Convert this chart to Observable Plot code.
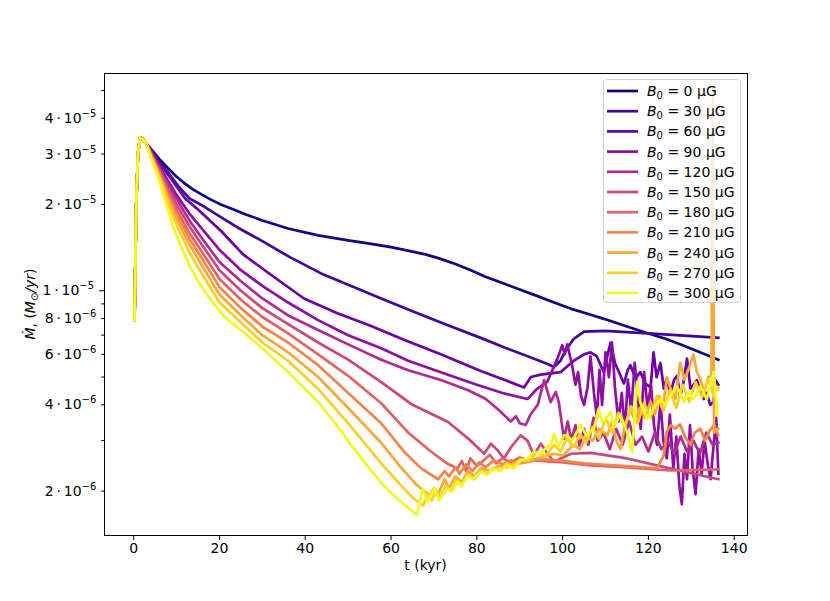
<!DOCTYPE html>
<html><head><meta charset="utf-8">
<script src="https://cdn.jsdelivr.net/npm/d3@7"></script>
<script src="https://cdn.jsdelivr.net/npm/@observablehq/plot@0.6"></script>
<style>
html,body{margin:0;padding:0;background:#fff;}
#chart{position:relative;width:830px;height:601px;}
</style></head><body><div id="chart"></div>
<script>
// magnetic field strengths (µG) and colours (plasma)
const fields = [0, 30, 60, 90, 120, 150, 180, 210, 240, 270, 300];
const colors = ["#0d0887","#41049d","#6a00a8","#8f0da4","#b12a90","#cc4778","#e16462","#f2844b","#fca636","#fcce25","#f0f921"];

// accretion rate in units of 1e-6 Msun/yr, t in kyr
const head = [[0.2,7.9],[0.6,20],[1.0,30],[1.5,34.2],[2.2,33.8],[3.0,32.5]];
const b0 = [[4,31.3],[6,28.8],[8,26.8],[10,25.0],[12,23.6],[14,22.5],[16,21.6],[18,20.8],[20,20.1],[23,19.3],[26,18.5],[30,17.6],[36,16.5],[43,15.6],[50,15.0],[55,14.6],[60,14.2],[65,13.7],[68,13.4],[71,13.0],[75,12.4],[78.6,11.8],[82,11.2],[86.3,10.6],[90,10.1],[94,9.6],[98,9.1],[102,8.65],[106,8.3],[110,7.95],[115,7.5],[120,7.1],[124,6.8],[128,6.45],[132,6.1],[136.3,5.75]];
const b30 = [[4,31.1],[6,28.2],[8,25.9],[10.4,23.2],[13,21.0],[16.6,19.6],[20.5,18.0],[24.3,16.6],[30,14.9],[36.4,13.1],[43.7,11.5],[50.7,10.4],[57.7,9.4],[64,8.6],[71.6,7.75],[80.9,6.85],[86.3,6.35],[92,5.9],[96.5,5.55],[98,5.42],[99.5,5.7],[100.7,6.2],[102.6,6.8],[105,7.2],[110,7.25],[120,7.1],[136.3,6.85]];
const b60 = [[4,30.9],[6,27.8],[8.8,24.5],[12,21.0],[15,19.2],[20.5,16.1],[25.5,13.4],[31.9,11.4],[39.7,9.4],[47.5,8.35],[55.2,7.55],[63,6.75],[71.6,6.0],[80.9,5.25],[87,4.85],[91,4.6],[92.6,5.0],[94.9,5.1],[99.5,5.2],[102.6,5.7],[105,6.0],[106.5,6.1],[108,5.9],[109.6,5.2],[110.5,6.0],[111.2,6.6],[112.2,5.6],[113.5,5.05],[114.3,4.75],[115.2,5.3],[115.8,5.5],[117,4.95],[118.1,5.2],[119.3,4.75],[120.5,4.6],[121.2,6.1],[121.9,5.0],[122.8,5.6],[123.6,4.56],[124.3,4.95],[125.1,4.38],[126,4.9],[126.7,5.05],[127.4,4.27],[128.2,4.8],[129,5.8],[129.8,4.56],[130.5,4.7],[131.3,4.88],[132.1,4.5],[132.9,4.19],[133.6,4.4],[134.4,4.0],[135.2,4.09],[135.6,4.88],[136.3,4.7]];
const b90 = [[4,30.7],[6,27.2],[8,24.2],[10,21.6],[13,18.6],[16,16.4],[20,13.9],[25,11.8],[30,10.4],[36,9.1],[43,7.9],[50,7.0],[57.7,6.3],[64,5.7],[71.6,5.2],[80,4.7],[86,4.4],[91.8,4.19],[94.1,4.56],[96.4,4.81],[98.8,5.8],[99.9,6.46],[100.5,6.0],[101.1,6.5],[102.2,5.5],[103,4.7],[103.6,5.2],[104.3,4.3],[105,4.0],[105.8,4.6],[106.5,5.9],[107.3,4.4],[108,3.6],[108.6,5.3],[109.2,4.0],[110,6.1],[110.8,5.0],[111.5,6.6],[112.2,4.6],[113,3.5],[113.8,4.4],[114.5,3.2],[115.2,4.9],[116,3.8],[116.8,5.6],[117.5,4.3],[118.2,3.3],[119,5.2],[119.8,3.9],[120.6,4.7],[121.3,3.4],[122,2.9],[122.8,4.1],[123.5,3.0],[124.3,2.6],[125,3.7],[125.8,2.4],[126.5,3.1],[127.2,2.1],[127.8,1.8],[128.4,2.7],[129,2.2],[129.7,3.4],[130.3,2.4],[131,1.95],[131.7,2.8],[132.4,2.3],[133.1,3.0],[133.8,2.5],[134.5,2.2],[135.2,2.9],[135.8,3.6],[136.3,2.3]];
const b120 = [[4,30.5],[6,26.9],[8,23.6],[10,20.9],[13,17.6],[16,15.2],[20,12.6],[25,10.8],[30,9.4],[36,8.2],[43,7.3],[50,6.5],[57.7,5.75],[64,5.28],[71.6,4.88],[78,4.5],[82,4.2],[85,3.85],[87.9,3.5],[89.1,3.65],[90,3.45],[91.4,3.4],[92.5,3.7],[94.2,4.0],[95.7,4.88],[97.2,4.09],[98.4,4.44],[99.1,4.09],[100.3,3.05],[101.2,3.5],[102,3.0],[103,3.4],[104,2.85],[105,3.3],[106,2.9],[107.2,3.6],[108.2,3.0],[109.5,3.2],[111,2.8],[112.5,3.3],[114,2.9],[115.5,3.5],[117,2.9],[118.5,3.1],[120,2.75],[121.5,3.2],[123,2.8],[124.5,3.0],[126,2.7],[127.5,3.1],[129,2.75],[130.5,3.0],[132,2.7],[133.5,3.2],[135,2.9],[136.3,2.95]];
const b150 = [[4,30.3],[6,26.4],[8,22.8],[10,20.0],[13,16.8],[16,14.4],[20,11.8],[25,10.0],[30,8.7],[36,7.65],[43,6.6],[50,5.75],[57.7,4.8],[65,4.0],[73.2,3.49],[78,3.05],[81.7,2.7],[83.3,2.93],[84.8,2.78],[86.3,2.6],[88,2.85],[90.2,3.13],[91.8,3.0],[93.3,2.67],[94.9,2.93],[96.5,2.7],[98,2.53],[100,2.62],[102,2.7],[106.5,2.72],[115,2.6],[125,2.4],[136.3,2.2]];
const b180 = [[4,30.1],[6,26.0],[8,22.2],[10,19.2],[13,15.9],[16,13.6],[20,11.0],[25,9.3],[30,8.1],[36,7.1],[43,6.0],[50,5.05],[57.7,4.05],[64,3.2],[69.3,2.75],[73,2.5],[75.5,2.4],[76.5,2.55],[77.5,2.35],[78.5,2.6],[80,2.45],[81.5,2.55],[83,2.68],[84.5,2.5],[86,2.6],[88,2.52],[90,2.62],[92,2.56],[95,2.55],[100,2.52],[106.5,2.46],[115,2.42],[125,2.36],[136.3,2.38]];
const b210 = [[4,29.9],[6,25.6],[8,21.6],[10,18.5],[13,15.2],[16,12.9],[20,10.3],[25,8.7],[30,7.5],[36,6.6],[43,5.5],[50,4.4],[57.7,3.45],[63,2.75],[67,2.4],[71,2.2],[72.5,2.35],[73.5,2.25],[75,2.42],[76,2.3],[77.5,2.48],[79,2.35],[80.5,2.52],[82,2.42],[84,2.56],[86,2.48],[88,2.56],[90,2.5],[93,2.55],[96,2.58],[100,2.55],[105,2.5],[110,2.47],[116,2.44],[122,2.4],[123.6,2.67],[124.3,3.22],[125.2,3.4],[126.2,3.3],[127.4,3.42],[128.5,3.1],[129.8,2.9],[130.8,3.2],[132.1,3.3],[133.2,3.0],[134.3,3.25],[135.3,3.4],[136.3,3.13]];
const b240 = [[4,29.7],[6,25.2],[8,21.0],[10,17.8],[13,14.5],[16,12.2],[20,9.7],[25,8.2],[30,7.0],[36,6.1],[43,5.0],[50,3.9],[57.7,2.95],[62,2.45],[66,2.1],[69,1.93],[70,2.05],[71,1.95],[72.5,2.2],[73.5,2.05],[75,2.25],[76.5,2.15],[78,2.35],[79.5,2.25],[81,2.4],[83,2.35],[85,2.45],[87,2.42],[89,2.5],[92,2.55],[95,2.62],[98,2.7],[100,2.66],[101,2.75],[102.5,2.9],[104,2.8],[105.5,3.1],[107,3.0],[108.5,3.3],[110.4,3.13],[111.5,3.5],[112.5,3.0],[113.5,2.8],[114.5,3.4],[115.8,3.85],[117,3.5],[118,3.9],[119.2,3.6],[120.5,4.1],[121.5,3.7],[122.5,4.3],[123.5,4.0],[124.3,5.0],[125.3,4.5],[126.3,4.2],[127.4,5.6],[128.4,4.9],[129.3,5.3],[130.5,6.0],[131.3,5.2],[132.1,4.95],[133,4.4],[134,5.0],[134.7,5.05],[135.0,50.5],[135.3,3.2],[136.3,3.3]];
const b270 = [[4,29.5],[6,24.8],[8,20.2],[10,17.0],[13,13.6],[16,11.4],[20,9.1],[25,7.75],[30,6.6],[36,5.7],[43,4.55],[50,3.45],[57.7,2.5],[62,2.12],[65,1.9],[67.5,1.78],[68.5,1.95],[69.5,1.85],[70.5,2.02],[71.5,1.9],[72.8,2.1],[74,2.0],[75.2,2.18],[76.5,2.12],[78,2.28],[79.5,2.2],[81,2.36],[82.5,2.3],[84,2.42],[85.5,2.36],[87,2.5],[88.5,2.45],[90,2.58],[92,2.55],[94,2.72],[96,2.64],[98,2.9],[99.5,2.75],[101,3.05],[102.5,2.85],[104,3.15],[105.5,2.95],[107,3.35],[108.5,3.05],[110,3.6],[111.5,3.2],[113,3.75],[114.5,3.35],[116,3.95],[117.5,3.45],[119,4.05],[120.5,3.6],[122,4.3],[123.5,3.8],[125,4.5],[126.5,3.9],[128,4.7],[129.5,4.1],[131,4.8],[132.5,4.25],[134,4.9],[135.2,4.3],[136.3,4.6]];
const b300 = [[4,29.2],[6,24.2],[6.5,22.7],[8,19.2],[9.6,16.1],[11.2,14.1],[13,12.3],[15,10.8],[18,9.3],[21.2,8.1],[26.7,6.95],[31,6.1],[35.2,5.35],[39,4.7],[43,4.09],[47,3.45],[50.7,2.9],[54.5,2.45],[58.4,2.08],[62,1.85],[66,1.65],[67.4,2.04],[68.5,1.83],[70.1,2.05],[71.2,1.86],[73.2,2.04],[74.3,2.0],[75.5,2.15],[76.5,2.08],[77.8,2.26],[79,2.2],[80.9,2.33],[82.4,2.28],[84,2.39],[85.5,2.35],[87.1,2.46],[88.6,2.4],[90.2,2.56],[91.8,2.6],[93.3,2.74],[94.9,2.7],[96.4,2.86],[97.2,2.89],[98,3.17],[99,2.86],[100.3,3.13],[101.1,3.13],[102.2,3.0],[103.4,3.22],[104.2,3.42],[105.5,3.13],[107.3,3.3],[108.4,3.88],[109.2,3.49],[110.2,3.6],[111.2,3.78],[111.9,3.35],[113.5,3.69],[115,3.22],[116.2,2.74],[117.4,4.81],[118.1,4.09],[119.7,3.57],[121.2,3.88],[122.8,4.19],[123.9,4.0],[125.1,4.29],[126.7,4.64],[128.2,4.09],[129.4,4.44],[130.5,4.19],[132.1,4.64],[133.6,4.19],[135.2,5.21],[136.1,3.69]];
const series = [b0, b30, b60, b90, b120, b150, b180, b210, b240, b270, b300];

const xTicks = [0, 20, 40, 60, 80, 100, 120, 140];
const yMinorTicks = [2e-6,3e-6,4e-6,5e-6,6e-6,7e-6,8e-6,9e-6,2e-5,3e-5,4e-5,5e-5];
const yMajorTicks = [1e-5];
// labelled y ticks: value, mantissa, exponent
const yLabelValues = [2e-6, 4e-6, 6e-6, 8e-6, 1e-5, 2e-5, 3e-5, 4e-5];
const yLabelMantissa = ["2", "4", "6", "8", "1", "2", "3", "4"];
const yLabelExponent = ["−6", "−6", "−6", "−6", "−5", "−5", "−5", "−5"];

const rows = [];
series.forEach((s, i) => head.concat(s).forEach(([t, v]) => rows.push({t, v: v * 1e-6, b: fields[i]})));

const plot = Plot.plot({
  width: 830, height: 601,
  marginLeft: 104, marginRight: 83, marginTop: 73, marginBottom: 66,
  style: {fontFamily: "'DejaVu Sans', sans-serif", fontSize: "14px", color: "#000", background: "#fff"},
  x: {domain: [-6.8, 143.1]},
  y: {type: "log", domain: [1.4e-6, 5.73e-5]},
  marks: [
    ...fields.map((f, i) => Plot.line(rows.filter(r => r.b === f), {
      x: "t", y: "v", stroke: colors[i], strokeWidth: 2.7,
      strokeLinejoin: "round", strokeLinecap: "square"
    })),
    Plot.frame({stroke: "#000", strokeWidth: 1}),
    Plot.axisX({ticks: xTicks, tickSize: 5, tickPadding: 3, fontSize: 14, label: null, tickFormat: d => String(d)}),
    Plot.axisY({ticks: yMinorTicks, tickSize: 2.8, label: null, tickFormat: () => ""}),
    Plot.axisY({ticks: yMajorTicks, tickSize: 5, label: null, tickFormat: () => ""})
  ]
});
document.getElementById("chart").appendChild(plot);

const svg = d3.select(plot);
const ns = "DejaVu Sans, sans-serif";
const ys = plot.scale("y");

// mathtext-like y tick labels: mantissa·10^exponent
yLabelValues.forEach((v, i) => {
  const major = yMajorTicks.includes(v);
  const t = svg.append("text")
    .attr("x", 104 - (major ? 5 : 2.8) - 4.9)
    .attr("y", ys.apply(v) + 5)
    .attr("text-anchor", "end").attr("font-family", ns).attr("font-size", 14).attr("fill", "#000");
  t.append("tspan").text(yLabelMantissa[i] + "\u2009·\u200910");
  t.append("tspan").attr("font-size", 10).attr("dy", -6).text(yLabelExponent[i]);
});

// x label
svg.append("text").attr("x", 425.5).attr("y", 570).attr("text-anchor", "middle")
  .attr("font-family", ns).attr("font-size", 14).attr("fill", "#000").text("t (kyr)");
// y label
const yl = svg.append("text").attr("transform", "translate(35,304) rotate(-90)")
  .attr("text-anchor", "middle").attr("font-family", ns).attr("font-size", 14).attr("fill", "#000");
yl.append("tspan").attr("font-style", "italic").text("Ṁ");
yl.append("tspan").text(", (");
yl.append("tspan").attr("font-style", "italic").text("M");
yl.append("tspan").attr("font-size", 10).attr("dy", 3).text("⊙");
yl.append("tspan").attr("dy", -3).attr("font-style", "italic").text("/yr");
yl.append("tspan").text(")");

// legend
const lg = svg.append("g").attr("text-anchor", "start");
lg.append("rect").attr("x", 603.5).attr("y", 79.5).attr("width", 137).attr("height", 223).attr("rx", 3)
  .style("fill", "rgba(255,255,255,0.8)").style("stroke", "#d0d0d0").style("stroke-width", "1px");
fields.forEach((f, i) => {
  const cy = 91 + 20.2 * i;
  lg.append("line").attr("x1", 607).attr("x2", 638).attr("y1", cy).attr("y2", cy)
    .style("stroke", colors[i]).style("stroke-width", "2.7px");
  const t = lg.append("text").attr("x", 647).attr("y", cy + 5).attr("text-anchor", "start")
    .attr("font-family", ns).attr("font-size", 14).attr("fill", "#000");
  t.append("tspan").attr("font-style", "italic").text("B");
  t.append("tspan").attr("font-size", 10).attr("dy", 3).text("0");
  t.append("tspan").attr("dy", -3).text(" = " + f + " μG");
});
</script></body></html>
